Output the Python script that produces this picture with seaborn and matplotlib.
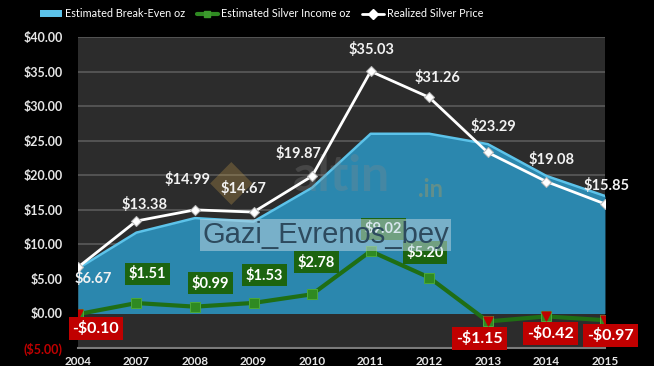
import numpy as np
import pandas as pd
import matplotlib
matplotlib.use("Agg")
import matplotlib.pyplot as plt
import seaborn as sns
from matplotlib.lines import Line2D
from matplotlib.patches import Patch

# Data
years = ["2004", "2007", "2008", "2009", "2010", "2011", "2012", "2013", "2014", "2015"]
break_even = [6.5, 11.7, 13.8, 13.3, 18.2, 26.0, 26.0, 24.5, 19.9, 17.0]
silver_income = [-0.10, 1.51, 0.99, 1.53, 2.78, 9.02, 5.20, -1.15, -0.42, -0.97]
silver_price = [6.67, 13.38, 14.99, 14.67, 19.87, 35.03, 31.26, 23.29, 19.08, 15.85]

y_ticks = [-5, 0, 5, 10, 15, 20, 25, 30, 35, 40]

# label offsets (points) for each annotation
price_offsets = [(11, -8), (6, 12), (-5, 22), (-7, 17), (-10, 16), (1, 16), (6, 14), (4, 19), (4, 16), (1, 13)]
income_offsets = [(13, -10), (8, 21), (11, 17), (8, 20), (3, 23), (9, 16), (-3, 18), (-6, -12), (3, -12), (4, -11)]

df = pd.DataFrame({
    "year": years,
    "pos": np.arange(len(years)),
    "break_even": break_even,
    "income": silver_income,
    "price": silver_price,
})

sns.set_theme(style="dark")
plt.rcParams["font.family"] = ["Lato", "DejaVu Sans"]

fig = plt.figure(figsize=(6.54, 3.66), dpi=100, facecolor="black")
ax = fig.add_axes([0.119, 0.049, 0.806, 0.850])
ax.set_facecolor("#2c2c2c")

# break-even area
ax.fill_between(df["pos"], df["break_even"], 0, color="#2b87ae", zorder=2, lw=0)
ax.plot(df["pos"], df["break_even"], color="#5cc3ea", lw=1.8, zorder=3)

# silver income line
sns.lineplot(data=df, x="pos", y="income", ax=ax, color="#1f6e14", lw=3,
             marker="s", markersize=7, markerfacecolor="#2f8a22",
             markeredgecolor="#4aa83a", zorder=5)
neg = df[df["income"] < 0]
ax.scatter(neg["pos"], neg["income"], marker="v", s=40, color="#c00000", zorder=6)

# realized price line
sns.lineplot(data=df, x="pos", y="price", ax=ax, color="white", lw=2,
             marker="D", markersize=5, markerfacecolor="white",
             markeredgecolor="#bbbbbb", zorder=7)

# price labels
for (i, row), off in zip(df.iterrows(), price_offsets):
    ax.annotate(f"${row['price']:.2f}", (row["pos"], row["price"]), xytext=off,
                textcoords="offset points", ha="center", va="center",
                fontsize=10.5, fontweight="bold", color="#f2f2f2", zorder=9)

# income labels
for (i, row), off in zip(df.iterrows(), income_offsets):
    v = row["income"]
    if v >= 0:
        txt, fc, fs = f"${v:.2f}", "#1c6410", 10.5
    else:
        txt, fc, fs = f"-${abs(v):.2f}", "#c00000", 11.5
    ax.annotate(txt, (row["pos"], v), xytext=off, textcoords="offset points",
                ha="center", va="center", fontsize=fs, fontweight="bold",
                color="white", zorder=10,
                bbox=dict(boxstyle="square,pad=0.25", fc=fc, ec="none"))

# watermarks
ax.text(0.29, 0.53, "\u25c6", transform=ax.transAxes, fontsize=40,
        family="DejaVu Sans", color="#c9a04a", alpha=0.3, ha="center", va="center", zorder=4)
ax.text(0.50, 0.55, "altin", transform=ax.transAxes, fontsize=36, fontweight="bold",
        color="#8a8a8a", alpha=0.28, ha="center", va="center", zorder=4)
ax.text(0.645, 0.51, ".in", transform=ax.transAxes, fontsize=17, fontweight="bold",
        color="#c9a04a", alpha=0.35, ha="left", va="center", zorder=4)
ax.text(0.47, 0.363, "Gazi_Evrenos_bey", transform=ax.transAxes, fontsize=21,
        family="Liberation Sans", color="#2d4a5e", ha="center", va="center", zorder=11,
        bbox=dict(boxstyle="square,pad=0.08", fc="#b8d3e0", ec="none", alpha=0.55))

ax.set_xlim(0, len(years) - 1)
ax.set_ylim(-5, 40)
ax.set_yticks(y_ticks)
ax.set_yticklabels(["($5.00)"] + [f"${t:.2f}" for t in y_ticks[1:]])
ax.get_yticklabels()[0].set_color("#c00000")
for lab in ax.get_yticklabels()[1:]:
    lab.set_color("#e6e6e6")
ax.set_xticks(df["pos"])
ax.set_xticklabels(years, color="#e6e6e6")
ax.tick_params(axis="y", labelsize=9, pad=11, length=0)
ax.tick_params(axis="x", labelsize=8.5, pad=6, length=0)
for lab in ax.get_yticklabels() + ax.get_xticklabels():
    lab.set_fontweight("bold")
ax.set_xlabel("")
ax.set_ylabel("")
ax.grid(axis="y", color="#5a5a5a", lw=1.2)
ax.grid(axis="x", visible=False)
for side in ["top", "right", "left"]:
    ax.spines[side].set_visible(False)
ax.spines["bottom"].set_color("#7a7a7a")
ax.spines["bottom"].set_linewidth(1.5)

handles = [
    Patch(facecolor="#5cc3ea", edgecolor="none"),
    Line2D([0], [0], color="#2f8a22", lw=3, marker="s", markersize=5,
           markerfacecolor="#3b9a2c", markeredgecolor="#3b9a2c"),
    Line2D([0], [0], color="white", lw=2, marker="D", markersize=5, markerfacecolor="white"),
]
labels = ["Estimated Break-Even oz", "Estimated Silver Income oz", "Realized Silver Price"]
fig.legend(handles, labels, loc="center", bbox_to_anchor=(0.40, 0.962), ncol=3,
           frameon=False, fontsize=7.8, labelcolor="white", handlelength=2.0,
           handleheight=0.5, columnspacing=1.1, handletextpad=0.25)

fig.savefig("out.png", dpi=100, facecolor="black")
